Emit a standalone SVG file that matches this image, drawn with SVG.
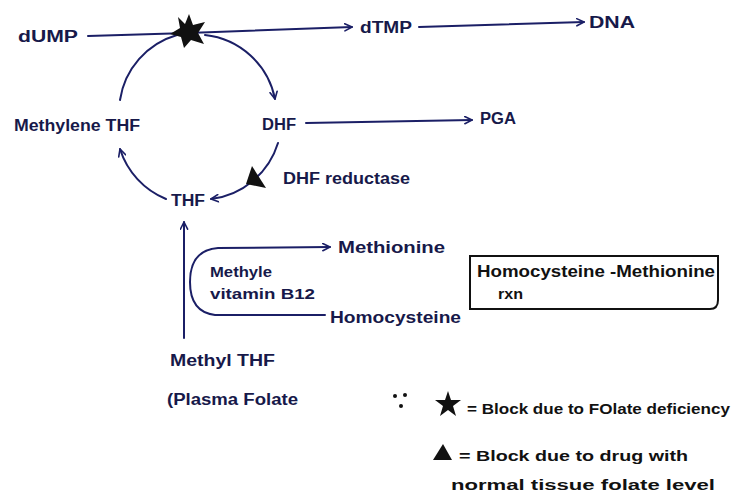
<svg xmlns="http://www.w3.org/2000/svg" width="733" height="502" viewBox="0 0 733 502">
  <defs>
    <marker id="arr" viewBox="0 0 10 10" refX="9" refY="5" markerWidth="9" markerHeight="9" markerUnits="userSpaceOnUse" orient="auto">
      <path d="M1,1 L9,5 L1,9" fill="none" stroke="#1b1f66" stroke-width="1.8" stroke-linecap="round" stroke-linejoin="round"/>
    </marker>
    <style>
      .ln { fill: none; stroke: #1b1f66; stroke-width: 2; stroke-linecap: round; }
      .t { font-family: "Liberation Sans", Arial, sans-serif; font-size: 16px; font-weight: bold; fill: #17194a; }
      .s { font-size: 14px; }
      .k { fill: #111; }
      .box { fill: none; stroke: #111; stroke-width: 2; }
    </style>
  </defs>
  <rect width="733" height="502" fill="#fff"/>

  <!-- connectors -->
  <g id="connectors">
    <path class="ln" d="M88,36 L188,33 L352,27" marker-end="url(#arr)"/>
    <path class="ln" d="M419,27 L584,22" marker-end="url(#arr)"/>
    <path class="ln" d="M306,123 L472,120" marker-end="url(#arr)"/>
    <!-- folate cycle -->
    <path class="ln" d="M205,35 A80,80 0 0 1 275,99" marker-end="url(#arr)"/>
    <path class="ln" d="M278,143 A80,80 0 0 1 211,199" marker-end="url(#arr)"/>
    <path class="ln" d="M166,199 A80,80 0 0 1 120,149" marker-end="url(#arr)"/>
    <path class="ln" d="M120,100 A80,80 0 0 1 177,35"/>
    <!-- methyl THF feeding THF -->
    <path class="ln" d="M184,338 L184,222" marker-end="url(#arr)"/>
    <!-- methyl transfer via B12 -->
    <path class="ln" d="M325,315 L215,315 Q190,312 190,282 Q190,250 218,248 L330,247" marker-end="url(#arr)"/>
  </g>

  <!-- enzyme blocks -->
  <g id="block-star">
    <polygon class="k" points="189,14 193,25 205,22 198,33 204,44 191,40 184,48 181,37 170,34 180,28 178,17 185,24"/>
  </g>
  <g id="block-triangle">
    <polygon class="k" points="252,166 266,188 246,184"/>
  </g>

  <!-- nodes -->
  <g id="dump"><text class="t" x="18" y="42" textLength="60" lengthAdjust="spacingAndGlyphs">dUMP</text></g>
  <g id="dtmp"><text class="t" x="360" y="33" textLength="52" lengthAdjust="spacingAndGlyphs">dTMP</text></g>
  <g id="dna"><text class="t" x="589" y="28" textLength="46" lengthAdjust="spacingAndGlyphs">DNA</text></g>
  <g id="methylene-thf"><text class="t" x="14" y="131" textLength="126" lengthAdjust="spacingAndGlyphs">Methylene THF</text></g>
  <g id="dhf"><text class="t" x="262" y="130" textLength="34" lengthAdjust="spacingAndGlyphs">DHF</text></g>
  <g id="pga"><text class="t" x="480" y="124" textLength="36" lengthAdjust="spacingAndGlyphs">PGA</text></g>
  <g id="dhf-reductase"><text class="t" x="283" y="184" textLength="127" lengthAdjust="spacingAndGlyphs">DHF reductase</text></g>
  <g id="thf"><text class="t" x="171" y="206" textLength="34" lengthAdjust="spacingAndGlyphs">THF</text></g>
  <g id="methionine"><text class="t" x="338" y="253" textLength="107" lengthAdjust="spacingAndGlyphs">Methionine</text></g>
  <g id="methyl-b12">
    <text class="t s" x="210" y="277" textLength="62" lengthAdjust="spacingAndGlyphs">Methyle</text>
    <text class="t s" x="210" y="299" textLength="105" lengthAdjust="spacingAndGlyphs">vitamin B12</text>
  </g>
  <g id="homocysteine"><text class="t" x="330" y="323" textLength="131" lengthAdjust="spacingAndGlyphs">Homocysteine</text></g>
  <g id="methyl-thf">
    <text class="t" x="170" y="366" textLength="105" lengthAdjust="spacingAndGlyphs">Methyl THF</text>
    <text class="t" x="167" y="405" textLength="131" lengthAdjust="spacingAndGlyphs">(Plasma Folate</text>
  </g>

  <g id="rxn-box">
    <path class="box" d="M470,256 L718,256 L718,300 Q718,309 710,309 L470,309 Z"/>
    <text class="t k" x="477" y="277" textLength="238" lengthAdjust="spacingAndGlyphs">Homocysteine -Methionine</text>
    <text class="t k s" x="498" y="299" textLength="25" lengthAdjust="spacingAndGlyphs">rxn</text>
  </g>

  <!-- legend -->
  <g id="legend">
    <circle class="k" cx="395" cy="396" r="2"/>
    <circle class="k" cx="405" cy="395" r="2"/>
    <circle class="k" cx="401" cy="406" r="2"/>
    <polygon class="k" points="448,391 451,400 461,400 453,406 456,416 448,410 440,416 443,406 435,400 445,400"/>
    <text class="t k s" x="467" y="414" textLength="263" lengthAdjust="spacingAndGlyphs">= Block due to FOlate deficiency</text>
    <polygon class="k" points="443,444 452,460 433,460"/>
    <text class="t k s" x="459" y="461" textLength="229" lengthAdjust="spacingAndGlyphs">= Block due to drug with</text>
    <text class="t k s" x="451" y="490" textLength="264" lengthAdjust="spacingAndGlyphs">normal tissue folate level</text>
  </g>
</svg>
